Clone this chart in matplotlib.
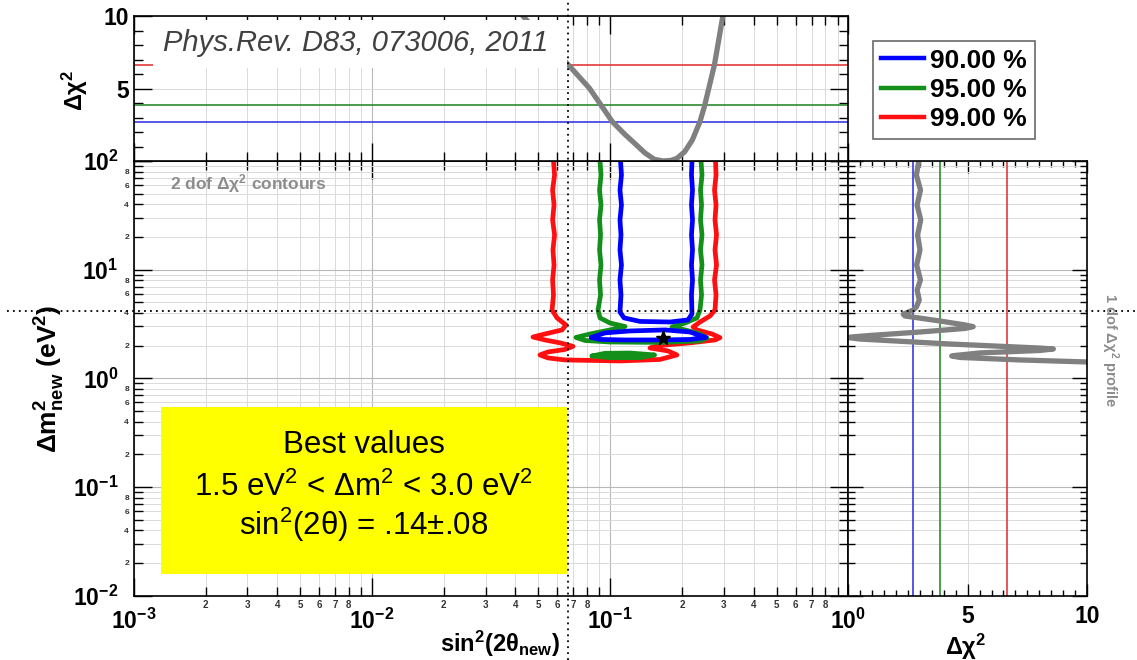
import numpy as np
import matplotlib
matplotlib.use("Agg")
import matplotlib.pyplot as plt
from matplotlib.ticker import LogLocator, MultipleLocator, FuncFormatter
from matplotlib.lines import Line2D
from matplotlib.patches import Rectangle

plt.rcParams['font.family'] = ['Liberation Sans', 'DejaVu Sans']
plt.rcParams['font.weight'] = 'bold'
plt.rcParams['axes.labelweight'] = 'bold'
plt.rcParams['mathtext.default'] = 'regular'

# confidence levels and 1 dof delta chi2 cuts
cl_labels = ["90.00 %", "95.00 %", "99.00 %"]
dchi2_cut = [2.71, 3.84, 6.63]

# 2 dof contours (sin^2 2theta, dm^2)
blue_u_s2 = [0.1105, 0.1115, 0.1099, 0.1115, 0.1099, 0.1110, 0.1099, 0.1115, 0.1099, 0.1110, 0.1099,
             0.1143, 0.1334, 0.1783, 0.2122, 0.2205, 0.2194, 0.2216, 0.2194, 0.2216, 0.2194, 0.2216,
             0.2194, 0.2216, 0.2194, 0.2205]
blue_u_dm2 = [100, 74.3, 54.1, 39.4, 28.7, 20.9, 15.2, 11.05, 8.04, 5.85, 4.08,
              3.60, 3.34, 3.30, 3.45, 3.91, 5.85, 8.04, 11.05, 15.2, 20.9, 28.7,
              39.4, 54.1, 74.3, 100]
blue_isl_s2 = [0.0835, 0.0951, 0.1211, 0.1698, 0.2163, 0.2524, 0.2163, 0.1618, 0.1154, 0.0906, 0.0835]
blue_isl_dm2 = [2.38, 2.62, 2.73, 2.79, 2.67, 2.38, 2.28, 2.256, 2.256, 2.28, 2.38]

green_u_s2 = [0.0906, 0.0915, 0.0902, 0.0915, 0.0902, 0.0911, 0.0902, 0.0915, 0.0902, 0.0911, 0.0889,
              0.0906, 0.0998, 0.1154, 0.0998, 0.0823, 0.0718, 0.0784, 0.0998, 0.1618, 0.2382,
              0.2549, 0.2382, 0.2061, 0.1817, 0.2061, 0.2314, 0.2382, 0.2418, 0.2394, 0.2429,
              0.2394, 0.2429, 0.2394, 0.2418, 0.2394, 0.2429, 0.2406]
green_u_dm2 = [100, 74.3, 54.1, 39.4, 28.7, 20.9, 15.2, 11.05, 8.04, 5.85, 4.26,
               3.60, 3.23, 3.00, 2.79, 2.56, 2.38, 2.23, 2.16, 2.14, 2.21,
               2.35, 2.56, 2.79, 2.97, 3.23, 3.60, 4.26, 5.85, 8.04, 11.05,
               15.2, 20.9, 28.7, 39.4, 54.1, 74.3, 100]
green_isl_s2 = [0.0839, 0.0951, 0.1211, 0.1536, 0.1334, 0.0998, 0.0839]
green_isl_dm2 = [1.607, 1.70, 1.71, 1.642, 1.55, 1.55, 1.607]

red_s2 = [0.0578, 0.0584, 0.0573, 0.0581, 0.0573, 0.0584, 0.0575, 0.0581, 0.0573, 0.0578, 0.0570,
          0.0598, 0.0652, 0.0628, 0.0532, 0.0474, 0.0532, 0.0616, 0.0698, 0.0646, 0.0548,
          0.0507, 0.0548, 0.0646, 0.1099, 0.1618, 0.1907, 0.1748, 0.1469, 0.1618, 0.2163,
          0.2754, 0.2891, 0.2676, 0.2314, 0.2227, 0.2382, 0.2624, 0.2754, 0.2782, 0.2741,
          0.2795, 0.2754, 0.2795, 0.2754, 0.2782, 0.2741, 0.2782, 0.2768]
red_dm2 = [100, 74.3, 54.1, 39.4, 28.7, 20.9, 15.2, 11.05, 8.04, 5.85, 4.26,
           3.60, 3.10, 2.79, 2.56, 2.40, 2.256, 2.12, 1.97, 1.845, 1.75,
           1.642, 1.541, 1.477, 1.446, 1.492, 1.642, 1.787, 1.904, 2.008, 2.12,
           2.256, 2.37, 2.56, 2.79, 2.97, 3.30, 3.75, 4.26, 5.85, 8.04,
           11.05, 15.2, 20.9, 28.7, 39.4, 54.1, 74.3, 100]

best_s2 = 0.167
best_dm2 = 2.35

# 1 dof profiles
prof_s2 = [0.0430, 0.0532, 0.0664, 0.0819, 0.1021, 0.1150, 0.1274, 0.1400, 0.1530, 0.1666,
           0.1800, 0.1909, 0.2055, 0.2212, 0.2381, 0.2489, 0.2738, 0.2968]
prof_s2_chi2 = [10.0, 8.34, 6.67, 5.01, 2.71, 1.85, 1.18, 0.55, 0.12, 0.0,
                0.04, 0.19, 0.64, 1.45, 2.71, 3.79, 6.62, 9.95]

prof_dm2 = [100, 74.3, 54.1, 39.4, 28.7, 20.9, 15.2, 11.05, 8.04, 6.5, 5.26, 4.54, 4.26,
            3.89, 3.75, 3.37, 3.10, 2.99, 2.88, 2.67, 2.48, 2.40, 2.37, 2.30, 2.07,
            1.90, 1.864, 1.806, 1.713, 1.624, 1.607, 1.557, 1.477, 1.415]
prof_dm2_chi2 = [2.95, 2.85, 3.02, 2.88, 3.03, 2.90, 3.00, 2.86, 3.02, 2.88, 2.97, 2.85, 2.72,
                 2.30, 2.37, 3.84, 4.89, 5.23, 4.89, 3.00, 0.90, 0.11, 0.01, 0.49, 4.26,
                 8.03, 8.59, 8.03, 5.52, 4.47, 4.33, 4.68, 7.19, 10.0]

thick_col = ['#0000ff', '#12901a', '#ff0f0f']
thin_col = ['#3a3ae0', '#2e8b2e', '#e03a3a']
gray = '#808080'

W, H = 1137.0, 660.0
def px_box(l, t, r, b):
    return [l / W, 1 - b / H, (r - l) / W, (b - t) / H]

fig = plt.figure(figsize=(W / 100, H / 100), dpi=100)
ax = fig.add_axes(px_box(133.8, 161, 848.4, 595.7))
axt = fig.add_axes(px_box(133.8, 16, 848.4, 161), sharex=ax)
axr = fig.add_axes(px_box(848.4, 161, 1087, 595.7), sharey=ax)

ax.set_xscale('log')
ax.set_yscale('log')
ax.set_xlim(1e-3, 1)
ax.set_ylim(1e-2, 1e2)
axt.set_ylim(0, 10)
axr.set_xlim(0, 10)

def mant(v):
    return int(round(v / 10 ** np.floor(np.log10(v) + 1e-9)))

ax.xaxis.set_major_locator(LogLocator(base=10, numticks=10))
ax.xaxis.set_minor_locator(LogLocator(base=10, subs=np.arange(2, 10), numticks=10))
ax.yaxis.set_major_locator(LogLocator(base=10, numticks=10))
ax.yaxis.set_minor_locator(LogLocator(base=10, subs=np.arange(2, 10), numticks=10))
ax.xaxis.set_minor_formatter(FuncFormatter(lambda v, p: str(mant(v)) if mant(v) < 9 else ''))
ax.yaxis.set_minor_formatter(FuncFormatter(lambda v, p: str(mant(v)) if mant(v) in (2, 4, 6, 8) else ''))

axt.yaxis.set_major_locator(MultipleLocator(5))
axt.yaxis.set_minor_locator(MultipleLocator(1))
axt.yaxis.set_major_formatter(FuncFormatter(lambda v, p: '' if v == 0 else '%g' % v))
axr.xaxis.set_major_locator(MultipleLocator(5))
axr.xaxis.set_minor_locator(MultipleLocator(0.5))
axr.xaxis.set_major_formatter(FuncFormatter(lambda v, p: '' if v == 0 else '%g' % v))

for a in (ax, axt, axr):
    a.tick_params(which='both', direction='in', top=True, right=True, width=1.0)
    a.tick_params(which='major', length=13)
    a.tick_params(which='minor', length=6.5)
    for s in a.spines.values():
        s.set_linewidth(1.2)

ax.tick_params(axis='x', which='major', labelsize=16.5, pad=9)
ax.tick_params(axis='x', which='minor', labelsize=7, pad=3.2, labelcolor='#333333')
ax.tick_params(axis='y', which='major', labelsize=16.5, pad=11)
ax.tick_params(axis='y', which='minor', labelsize=6, pad=3.5, labelcolor='#333333')
axt.tick_params(which='both', labelbottom=False)
axt.tick_params(axis='y', labelsize=16.5, pad=3.5)
axr.tick_params(which='both', labelleft=False)
axr.tick_params(axis='x', which='major', length=8.5, labelsize=16.5, pad=7)
axr.tick_params(axis='x', which='minor', length=4.3)
axr.tick_params(axis='y', which='major', length=11)
axr.tick_params(axis='y', which='minor', length=4.7)

ax.grid(True, which='major', color='#b8b8b8', lw=0.8)
ax.grid(True, which='minor', color='#dadada', lw=0.7)
axt.grid(True, axis='x', which='major', color='#b8b8b8', lw=0.8)
axt.grid(True, axis='x', which='minor', color='#dadada', lw=0.7)
axt.grid(True, axis='y', which='major', color='#dadada', lw=0.7)
axr.grid(True, axis='x', which='major', color='#dadada', lw=0.7)
axr.grid(True, axis='y', which='major', color='#b8b8b8', lw=0.8)
axr.grid(True, axis='y', which='minor', color='#dadada', lw=0.7)

# contours
lkw = dict(lw=3.4, solid_joinstyle='round', solid_capstyle='round')
ax.plot(red_s2, red_dm2, color=thick_col[2], **lkw)
ax.plot(green_u_s2, green_u_dm2, color=thick_col[1], **lkw)
ax.plot(green_isl_s2, green_isl_dm2, color=thick_col[1], **lkw)
ax.plot(blue_u_s2, blue_u_dm2, color=thick_col[0], **lkw)
ax.plot(blue_isl_s2, blue_isl_dm2, color=thick_col[0], **lkw)
ax.plot([best_s2], [best_dm2], marker='*', color='black', ms=11, linestyle='none', zorder=5)

# profiles
for c, col in zip(dchi2_cut, thin_col):
    axt.axhline(c, color=col, lw=1.2, zorder=1.8)
    axr.axvline(c, color=col, lw=1.2, zorder=1.8)
axt.plot(prof_s2, prof_s2_chi2, color=gray, lw=3.8, solid_capstyle='round',
         solid_joinstyle='round', zorder=2)
axr.plot(prof_dm2_chi2, prof_dm2, color=gray, lw=3.8, solid_joinstyle='round', zorder=2)

# annotation boxes
axt.add_patch(Rectangle((0.0264, 0.64), 0.58, 0.335, transform=axt.transAxes,
                        facecolor='white', edgecolor='none', zorder=2.5))
axt.text(0.311, 0.814, 'Phys.Rev. D83, 073006, 2011', transform=axt.transAxes,
         ha='center', va='center', fontsize=21, style='italic', weight='normal',
         color='#404040', zorder=3)

ax.add_patch(Rectangle((0.0381, 0.0499), 0.568, 0.3842, transform=ax.transAxes,
                       facecolor='#ffff00', edgecolor='none', zorder=2.5))
best_lines = ['Best values', '1.5 eV$^{2}$ < Δm$^{2}$ < 3.0 eV$^{2}$', 'sin$^{2}$(2θ) = .14±.08']
for txt, yy in zip(best_lines, [0.3467, 0.2501, 0.1626]):
    ax.text(0.322, yy, txt, transform=ax.transAxes, ha='center', va='center',
            fontsize=22.5, weight='normal', color='black', zorder=3)

ax.text(0.0507, 0.947, '2 dof Δχ$^{2}$ contours', transform=ax.transAxes, ha='left',
        va='center', fontsize=12.5, weight='bold', color='#8c8c8c')
fig.text(1110 / W, 1 - 350 / H, '1 dof Δχ$^{2}$ profile', rotation=-90, ha='center',
         va='center', fontsize=10.5, weight='bold', color='#8c8c8c')

# axis labels
ax.set_xlabel('sin$^{2}$(2θ$_{new}$)', fontsize=17, ha='right', va='center')
ax.xaxis.set_label_coords(0.5964, -0.111)
ax.set_ylabel('$Δm^{2}_{new}$ (eV$^{2}$)', fontsize=19, va='center')
ax.yaxis.set_label_coords(-0.117, 0.5)
axt.set_ylabel('Δχ$^{2}$', fontsize=17, va='center')
axt.yaxis.set_label_coords(-0.0823, 0.49)
axr.set_xlabel('Δχ$^{2}$', fontsize=17, va='center')
axr.xaxis.set_label_coords(0.493, -0.118)

# legend
handles = [Line2D([], [], color=c, lw=3.2) for c in thick_col]
leg = fig.legend(handles, cl_labels, loc='upper left', bbox_to_anchor=(872.7 / W, 1 - 40.7 / H),
                 bbox_transform=fig.transFigure, borderaxespad=0, frameon=True, fancybox=False,
                 edgecolor='#444444', prop={'weight': 'bold', 'size': 19}, handlelength=1.65,
                 handletextpad=0.22, labelspacing=0.2, borderpad=0.3)
leg.get_frame().set_linewidth(1.2)

# dotted cross-hair
dot = (0, (1, 2.3))
fig.add_artist(Line2D([567.5 / W, 567.5 / W], [0, 1], transform=fig.transFigure,
                      color='black', lw=1.3, linestyle=dot, zorder=10))
fig.add_artist(Line2D([7 / W, 1], [1 - 311 / H, 1 - 311 / H], transform=fig.transFigure,
                      color='black', lw=1.3, linestyle=dot, zorder=10))

fig.savefig('out.png', dpi=100)
